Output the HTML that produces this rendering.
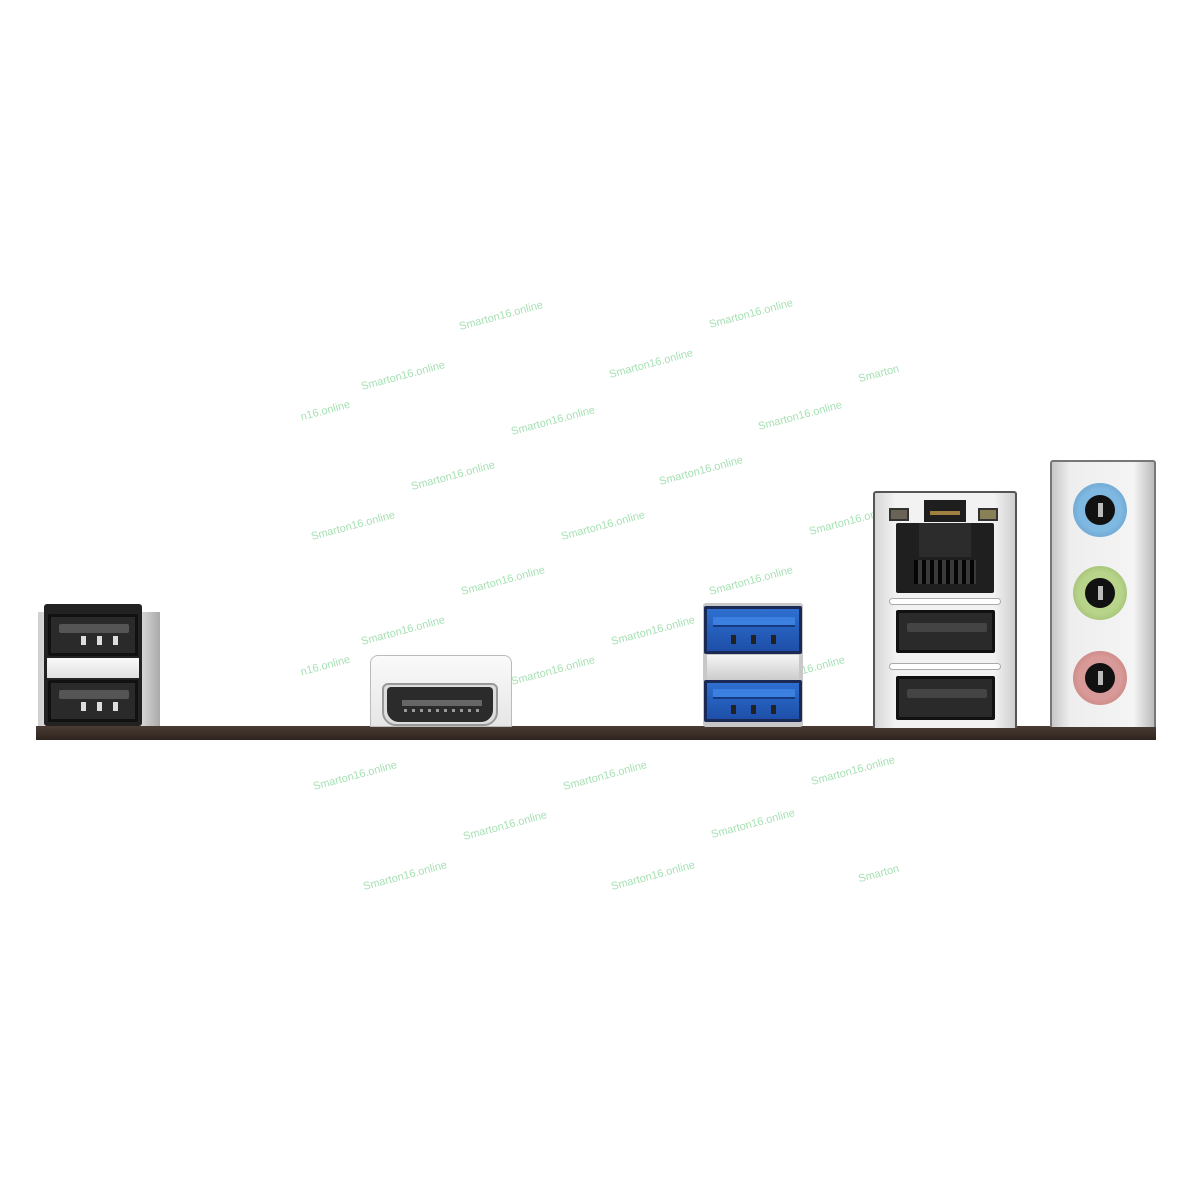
<!DOCTYPE html>
<html><head><meta charset="utf-8"><style>
body{margin:0;width:1200px;height:1200px;background:#fff;position:relative;overflow:hidden;font-family:"Liberation Sans",sans-serif}
div{position:absolute;box-sizing:border-box}
.wm{color:#8fd9a0;font-size:11px;transform:rotate(-15deg);white-space:nowrap;opacity:.8}
.port{background:#2a2a2a;border:3px solid #111;border-radius:2px}
.tongue{background:#555;height:9px;border-radius:2px}
.pin{background:#ddd;width:5px;height:9px}
.bport{background:linear-gradient(#2f6fd0,#1d4fa8);border:3px solid #1b2a55;border-radius:2px}
.btongue{background:#3b7fe0;height:10px;border-bottom:2px solid #153a80}
.jack{width:54px;height:54px;border-radius:50%}
.hole{left:12px;top:12px;width:30px;height:30px;border-radius:50%;background:#111}
</style></head><body>

<!-- watermarks -->
<div class="wm" style="left:300px;top:405px">n16.online</div>
<div class="wm" style="left:360px;top:370px">Smarton16.online</div>
<div class="wm" style="left:458px;top:310px">Smarton16.online</div>
<div class="wm" style="left:608px;top:358px">Smarton16.online</div>
<div class="wm" style="left:708px;top:308px">Smarton16.online</div>
<div class="wm" style="left:858px;top:368px">Smarton</div>
<div class="wm" style="left:410px;top:470px">Smarton16.online</div>
<div class="wm" style="left:510px;top:415px">Smarton16.online</div>
<div class="wm" style="left:658px;top:465px">Smarton16.online</div>
<div class="wm" style="left:757px;top:410px">Smarton16.online</div>
<div class="wm" style="left:310px;top:520px">Smarton16.online</div>
<div class="wm" style="left:560px;top:520px">Smarton16.online</div>
<div class="wm" style="left:808px;top:515px">Smarton16.online</div>
<div class="wm" style="left:460px;top:575px">Smarton16.online</div>
<div class="wm" style="left:708px;top:575px">Smarton16.online</div>
<div class="wm" style="left:360px;top:625px">Smarton16.online</div>
<div class="wm" style="left:610px;top:625px">Smarton16.online</div>
<div class="wm" style="left:300px;top:660px">n16.online</div>
<div class="wm" style="left:510px;top:665px">Smarton16.online</div>
<div class="wm" style="left:760px;top:665px">Smarton16.online</div>
<div class="wm" style="left:312px;top:770px">Smarton16.online</div>
<div class="wm" style="left:562px;top:770px">Smarton16.online</div>
<div class="wm" style="left:810px;top:765px">Smarton16.online</div>
<div class="wm" style="left:462px;top:820px">Smarton16.online</div>
<div class="wm" style="left:710px;top:818px">Smarton16.online</div>
<div class="wm" style="left:362px;top:870px">Smarton16.online</div>
<div class="wm" style="left:610px;top:870px">Smarton16.online</div>
<div class="wm" style="left:858px;top:868px">Smarton</div>

<!-- PCB bar -->
<div style="left:36px;top:726px;width:1120px;height:14px;background:linear-gradient(#4a3c34,#2e241f)"></div>

<!-- left USB stack -->
<div style="left:38px;top:612px;width:122px;height:114px;background:linear-gradient(90deg,#cfcfcf,#f2f2f2 20%,#e4e4e4 80%,#aaa)"></div>
<div style="left:44px;top:604px;width:98px;height:122px;background:#222;border-radius:3px"></div>
<div style="left:47px;top:658px;width:92px;height:20px;background:linear-gradient(#fafafa,#e0e0e0)"></div>
<div class="port" style="left:48px;top:614px;width:90px;height:42px"><div class="tongue" style="left:8px;top:7px;width:70px"></div>
<div class="pin" style="left:30px;top:19px"></div><div class="pin" style="left:46px;top:19px"></div><div class="pin" style="left:62px;top:19px"></div></div>
<div class="port" style="left:48px;top:680px;width:90px;height:42px"><div class="tongue" style="left:8px;top:7px;width:70px"></div>
<div class="pin" style="left:30px;top:19px"></div><div class="pin" style="left:46px;top:19px"></div><div class="pin" style="left:62px;top:19px"></div></div>

<!-- HDMI -->
<div style="left:370px;top:655px;width:142px;height:72px;background:linear-gradient(#fafafa,#e6e6e6);border:1px solid #bbb;border-radius:8px 8px 0 0"></div>
<div style="left:382px;top:683px;width:116px;height:43px;background:#ddd;border:2px solid #999;border-radius:6px 6px 14px 14px"></div>
<div style="left:387px;top:687px;width:106px;height:35px;background:#2b2b2b;border-radius:4px 4px 12px 12px"></div>
<div style="left:402px;top:700px;width:80px;height:6px;background:#666"></div>
<div style="left:404px;top:709px;width:76px;height:3px;background:repeating-linear-gradient(90deg,#999 0 3px,transparent 3px 8px)"></div>

<!-- blue USB -->
<div style="left:703px;top:603px;width:100px;height:124px;background:#c8c8c8;border-radius:3px"></div>
<div style="left:707px;top:655px;width:92px;height:25px;background:linear-gradient(#f5f5f5,#ccc)"></div>
<div class="bport" style="left:704px;top:606px;width:98px;height:48px"><div class="btongue" style="left:6px;top:8px;width:82px"></div>
<div class="pin" style="left:24px;top:26px;background:#222"></div><div class="pin" style="left:44px;top:26px;background:#222"></div><div class="pin" style="left:64px;top:26px;background:#222"></div></div>
<div class="bport" style="left:704px;top:680px;width:98px;height:42px"><div class="btongue" style="left:6px;top:6px;width:82px"></div>
<div class="pin" style="left:24px;top:22px;background:#222"></div><div class="pin" style="left:44px;top:22px;background:#222"></div><div class="pin" style="left:64px;top:22px;background:#222"></div></div>

<!-- LAN + USB block -->
<div style="left:873px;top:491px;width:144px;height:237px;background:linear-gradient(90deg,#d8d8d8,#f2f2f2 15%,#f2f2f2 85%,#cfcfcf);border:2px solid #555;border-bottom:none;border-radius:3px 3px 0 0"></div>
<div style="left:889px;top:508px;width:20px;height:13px;background:#6b6356;border:2px solid #333"></div>
<div style="left:978px;top:508px;width:20px;height:13px;background:#8a8055;border:2px solid #333"></div>
<div style="left:924px;top:500px;width:42px;height:22px;background:#1e1e1e"></div>
<div style="left:930px;top:511px;width:30px;height:4px;background:#a08040"></div>
<div style="left:896px;top:523px;width:98px;height:70px;background:#1f1f1f;border-radius:2px"></div>
<div style="left:919px;top:523px;width:52px;height:34px;background:#2c2c2c"></div>
<div style="left:914px;top:560px;width:62px;height:24px;background:repeating-linear-gradient(90deg,#050505 0 4px,#3a3a3a 4px 8px)"></div>
<div style="left:889px;top:598px;width:112px;height:7px;background:#fff;border:1px solid #aaa;border-radius:4px"></div>
<div style="left:889px;top:663px;width:112px;height:7px;background:#fff;border:1px solid #aaa;border-radius:4px"></div>
<div class="port" style="left:896px;top:610px;width:99px;height:43px"><div class="tongue" style="left:8px;top:10px;width:80px;background:#444"></div></div>
<div class="port" style="left:896px;top:676px;width:99px;height:44px"><div class="tongue" style="left:8px;top:10px;width:80px;background:#444"></div></div>

<!-- audio -->
<div style="left:1050px;top:460px;width:106px;height:267px;background:linear-gradient(90deg,#c8c8c8,#eee 18%,#f4f4f4 80%,#bbb);border:2px solid #777;border-bottom:none;border-radius:3px 3px 0 0"></div>
<div class="jack" style="left:1073px;top:483px;background:radial-gradient(#7fb8e0 55%,#5b93c4)"><div class="hole"></div><div style="left:25px;top:20px;width:5px;height:14px;background:#bbb"></div></div>
<div class="jack" style="left:1073px;top:566px;background:radial-gradient(#b7d48a 55%,#90b060)"><div class="hole"></div><div style="left:25px;top:20px;width:5px;height:14px;background:#bbb"></div></div>
<div class="jack" style="left:1073px;top:651px;background:radial-gradient(#d89a98 55%,#c07470)"><div class="hole"></div><div style="left:25px;top:20px;width:5px;height:14px;background:#bbb"></div></div>

</body></html>
